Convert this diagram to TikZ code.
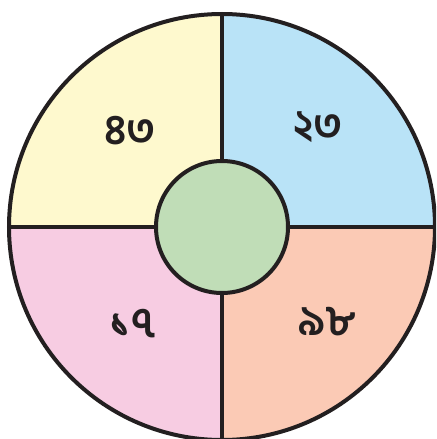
\documentclass[tikz,border=0pt]{standalone}
\usepackage{fontspec}
\newfontfamily\bengfont[Script=Bengali]{Hind Siliguri}
\definecolor{qyellow}{HTML}{FEF9CE}
\definecolor{qblue}{HTML}{B9E3F7}
\definecolor{qpink}{HTML}{F7CCE2}
\definecolor{qpeach}{HTML}{FBCAB5}
\definecolor{qgreen}{HTML}{C0DDB7}
\definecolor{ink}{HTML}{231F20}

\newcommand*{\cx}{222}
\newcommand*{\cy}{227}
\newcommand*{\rout}{213}
\newcommand*{\rin}{66}

\begin{document}
\begin{tikzpicture}[x=0.02cm,y=-0.02cm,
	numlabel/.style={font=\bengfont\bfseries\fontsize{24}{24}\selectfont,text=ink}]

	\useasboundingbox (0,0) rectangle (436,439);
	\clip (0,0) rectangle (436,439);

	\coordinate (c) at (\cx,\cy);

	% quadrants (y runs downwards, so angles turn clockwise)
	\fill[qyellow] (c) -- ++(-\rout,0) arc[start angle=180,end angle=270,radius=\rout] -- cycle;
	\fill[qblue] (c) -- ++(0,-\rout) arc[start angle=270,end angle=360,radius=\rout] -- cycle;
	\fill[qpeach] (c) -- ++(\rout,0) arc[start angle=0,end angle=90,radius=\rout] -- cycle;
	\fill[qpink] (c) -- ++(0,\rout) arc[start angle=90,end angle=180,radius=\rout] -- cycle;

	% outline and cross
	\draw[ink,line width=4*0.02cm] (c) circle[radius=\rout];
	\draw[ink,line width=3.4*0.02cm] (\cx-\rout,\cy) -- (\cx+\rout,\cy);
	\draw[ink,line width=3.4*0.02cm] (\cx,\cy-\rout) -- (\cx,\cy+\rout);

	% hub
	\node[circle,draw=ink,fill=qgreen,line width=4*0.02cm,minimum size=2*\rin*0.02cm,inner sep=0pt] (hub) at (c) {};

	% numbers
	\node[numlabel] (tl) at (130,131) {৪৩};
	\node[numlabel] (tr) at (318,127) {২৩};
	\node[numlabel] (bl) at (133,324) {১৭};
	\node[numlabel] (br) at (327,322) {৯৮};

\end{tikzpicture}
\end{document}
